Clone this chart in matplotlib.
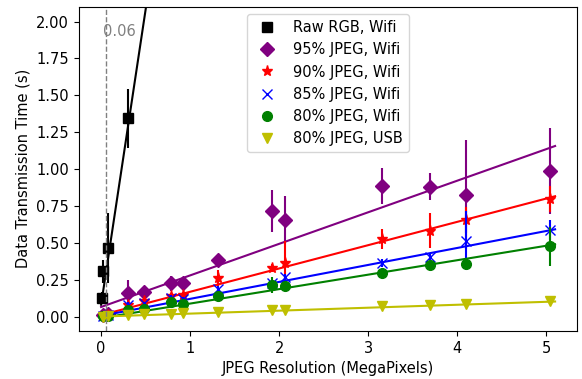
import numpy as np
import matplotlib
matplotlib.use("Agg")
import matplotlib.pyplot as plt

plt.rcParams["font.size"] = 10.5

# raw RGB frames over wifi
x_raw = [0.005, 0.019, 0.077, 0.307]
t_raw = [0.125, 0.306, 0.465, 1.343]
e_raw = [0.04, 0.08, 0.24, 0.2]

# jpeg frame sizes (megapixels)
x_jpeg = [0.019, 0.077, 0.307, 0.48, 0.786, 0.92, 1.31, 1.92, 2.07, 3.15, 3.69, 4.10, 5.04]

t_q95 = [0.01, 0.02, 0.16, 0.165, 0.225, 0.23, 0.385, 0.715, 0.657, 0.886, 0.88, 0.825, 0.986]
e_q95 = [0.01, 0.01, 0.09, 0.02, 0.05, 0.03, 0.02, 0.145, 0.16, 0.12, 0.09, 0.37, 0.29]

t_q90 = [0.005, 0.01, 0.08, 0.105, 0.14, 0.145, 0.26, 0.329, 0.36, 0.526, 0.582, 0.655, 0.797]
e_q90 = [0.005, 0.01, 0.02, 0.03, 0.02, 0.02, 0.056, 0.03, 0.15, 0.07, 0.12, 0.09, 0.09]

t_q85 = [0.005, 0.01, 0.08, 0.09, 0.125, 0.12, 0.19, 0.23, 0.27, 0.363, 0.405, 0.515, 0.586]
e_q85 = [0.005, 0.005, 0.02, 0.01, 0.02, 0.01, 0.02, 0.02, 0.02, 0.03, 0.02, 0.2, 0.07]

t_q80 = [0.002, 0.005, 0.045, 0.052, 0.10, 0.086, 0.14, 0.215, 0.206, 0.294, 0.349, 0.358, 0.476]
e_q80 = [0.003, 0.003, 0.01, 0.01, 0.02, 0.01, 0.01, 0.055, 0.02, 0.02, 0.02, 0.02, 0.13]

t_usb = [0.0, 0.003, 0.012, 0.015, 0.02, 0.022, 0.03, 0.042, 0.045, 0.07, 0.08, 0.087, 0.105]
e_usb = [0.003, 0.003, 0.005, 0.005, 0.005, 0.005, 0.005, 0.005, 0.005, 0.005, 0.005, 0.005, 0.005]

# linear fits (intercept, slope)
fit_raw = (0.08, 4.0)
fit_q95 = (0.065, 0.214)
fit_q90 = (0.01, 0.158)
fit_q85 = (0.005, 0.115)
fit_q80 = (-0.01, 0.098)
fit_usb = (0.0, 0.02)

labels = ["Raw RGB, Wifi", "95% JPEG, Wifi", "90% JPEG, Wifi",
          "85% JPEG, Wifi", "80% JPEG, Wifi", "80% JPEG, USB"]

series = [
    (x_raw, t_raw, e_raw, fit_raw, "k", "s", 7),
    (x_jpeg, t_q95, e_q95, fit_q95, "purple", "D", 7.5),
    (x_jpeg, t_q90, e_q90, fit_q90, "r", "*", 8),
    (x_jpeg, t_q85, e_q85, fit_q85, "b", "x", 7),
    (x_jpeg, t_q80, e_q80, fit_q80, "g", "o", 7),
    (x_jpeg, t_usb, e_usb, fit_usb, "y", "v", 7),
]

fig = plt.figure(figsize=(5.82, 3.79), dpi=100)
ax = fig.add_axes([0.135, 0.127, 0.857, 0.855])

xs = np.linspace(0, 5.1, 200)
for (x, t, e, fit, c, m, ms), lab in zip(series, labels):
    ax.errorbar(x, t, yerr=e, fmt="none", ecolor=c, elinewidth=1.5)
    ax.plot(x, t, m, color=c, ms=ms, label=lab)
    ax.plot(xs, fit[0] + fit[1] * xs, "-", color=c, lw=1.5)

ax.axvline(0.06, color="gray", ls="--", lw=1)
ax.text(0.02, 1.935, "0.06", color="gray", fontsize=10.5, va="center")

ax.set_xlim(-0.253, 5.35)
ax.set_ylim(-0.097, 2.1)
ax.set_xlabel("JPEG Resolution (MegaPixels)")
ax.set_ylabel("Data Transmission Time (s)")
ax.legend(loc="upper center", numpoints=1)

fig.savefig("out.png", dpi=100)
